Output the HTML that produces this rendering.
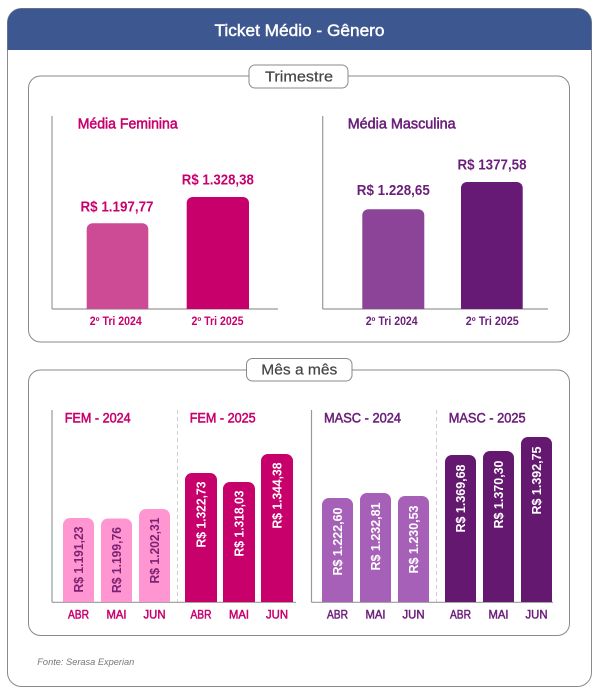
<!DOCTYPE html>
<html><head><meta charset="utf-8"><style>
html,body{margin:0;padding:0;background:#fff;}
svg{display:block;}
text{font-family:"Liberation Sans",Arial,sans-serif;}
</style></head><body>
<svg width="602" height="691" viewBox="0 0 602 691" xmlns="http://www.w3.org/2000/svg">
<!-- outer card -->
<rect x="7.5" y="8.5" width="584" height="678" rx="14" fill="#fff" stroke="#8a8a8a" stroke-width="1"/>
<path d="M7.5 50 V22.5 A14 14 0 0 1 21.5 8.5 H577.5 A14 14 0 0 1 591.5 22.5 V50 Z" fill="#3d5791"/>
<text x="299.5" y="30.5" text-anchor="middle" dominant-baseline="central" font-size="17" fill="#fff" stroke="#fff" stroke-width="0.45" textLength="170" lengthAdjust="spacingAndGlyphs">Ticket Médio - Gênero</text>

<!-- Trimestre box -->
<rect x="28.5" y="76" width="541" height="266" rx="12" fill="none" stroke="#8a8a8a" stroke-width="1"/>
<rect x="249" y="65" width="99" height="23" rx="6" fill="#fff" stroke="#8a8a8a" stroke-width="1"/>
<text x="299" y="77" text-anchor="middle" dominant-baseline="central" font-size="15" fill="#444" stroke="#444" stroke-width="0.2" textLength="68" lengthAdjust="spacingAndGlyphs">Trimestre</text>

<!-- Fem trimestre -->
<line x1="52" y1="116" x2="52" y2="309" stroke="#999" stroke-width="1.2"/>
<line x1="52" y1="309" x2="278" y2="309" stroke="#999" stroke-width="1.2"/>
<text x="77.7" y="124" dominant-baseline="central" font-size="15" fill="#c8006e" stroke="#c8006e" stroke-width="0.55" textLength="100" lengthAdjust="spacingAndGlyphs">Média Feminina</text>
<path d="M86.7 309 V229.3 A6 6 0 0 1 92.7 223.3 H142.3 A6 6 0 0 1 148.3 229.3 V309 Z" fill="#cd4b94"/>
<path d="M186.7 309 V203 A6 6 0 0 1 192.7 197 H243 A6 6 0 0 1 249 203 V309 Z" fill="#c8006c"/>
<text x="117" y="207" text-anchor="middle" dominant-baseline="central" font-size="15" font-weight="bold" fill="#c8006e" textLength="73" lengthAdjust="spacingAndGlyphs">R$ 1.197,77</text>
<text x="217.8" y="180" text-anchor="middle" dominant-baseline="central" font-size="15" font-weight="bold" fill="#c8006e" textLength="72" lengthAdjust="spacingAndGlyphs">R$ 1.328,38</text>
<text x="115.8" y="322" text-anchor="middle" dominant-baseline="central" font-size="11.5" font-weight="bold" fill="#c8006e" textLength="52" lengthAdjust="spacingAndGlyphs">2º Tri 2024</text>
<text x="217.5" y="322" text-anchor="middle" dominant-baseline="central" font-size="11.5" font-weight="bold" fill="#c8006e" textLength="52" lengthAdjust="spacingAndGlyphs">2º Tri 2025</text>

<!-- Masc trimestre -->
<line x1="322.7" y1="116" x2="322.7" y2="309" stroke="#999" stroke-width="1.2"/>
<line x1="322.7" y1="309" x2="548" y2="309" stroke="#999" stroke-width="1.2"/>
<text x="347.7" y="124" dominant-baseline="central" font-size="15" fill="#6b1f7a" stroke="#6b1f7a" stroke-width="0.55" textLength="108" lengthAdjust="spacingAndGlyphs">Média Masculina</text>
<path d="M362.3 309 V215.3 A6 6 0 0 1 368.3 209.3 H418.3 A6 6 0 0 1 424.3 215.3 V309 Z" fill="#8b4498"/>
<path d="M461 309 V188 A6 6 0 0 1 467 182 H516.7 A6 6 0 0 1 522.7 188 V309 Z" fill="#661a75"/>
<text x="393.3" y="190.7" text-anchor="middle" dominant-baseline="central" font-size="15" font-weight="bold" fill="#6b1f7a" textLength="73" lengthAdjust="spacingAndGlyphs">R$ 1.228,65</text>
<text x="492" y="165" text-anchor="middle" dominant-baseline="central" font-size="15" font-weight="bold" fill="#6b1f7a" textLength="69" lengthAdjust="spacingAndGlyphs">R$ 1377,58</text>
<text x="391.7" y="322" text-anchor="middle" dominant-baseline="central" font-size="11.5" font-weight="bold" fill="#6b1f7a" textLength="52" lengthAdjust="spacingAndGlyphs">2º Tri 2024</text>
<text x="492.3" y="322" text-anchor="middle" dominant-baseline="central" font-size="11.5" font-weight="bold" fill="#6b1f7a" textLength="53" lengthAdjust="spacingAndGlyphs">2º Tri 2025</text>

<!-- Mes a mes box -->
<rect x="28.5" y="370" width="541" height="265.5" rx="12" fill="none" stroke="#8a8a8a" stroke-width="1"/>
<rect x="246.5" y="358.5" width="105.5" height="22.5" rx="6" fill="#fff" stroke="#8a8a8a" stroke-width="1"/>
<text x="299.3" y="370" text-anchor="middle" dominant-baseline="central" font-size="15" fill="#444" stroke="#444" stroke-width="0.2" textLength="76" lengthAdjust="spacingAndGlyphs">Mês a mês</text>

<!-- FEM monthly -->
<line x1="52" y1="410" x2="52" y2="602.3" stroke="#999" stroke-width="1.2"/>
<line x1="52" y1="602.3" x2="296" y2="602.3" stroke="#999" stroke-width="1.2"/>
<line x1="177.5" y1="410" x2="177.5" y2="602" stroke="#d0d0d0" stroke-width="1" stroke-dasharray="4 3"/>
<text x="64.7" y="417.7" dominant-baseline="central" font-size="14" fill="#c8006e" stroke="#c8006e" stroke-width="0.55" textLength="66" lengthAdjust="spacingAndGlyphs">FEM - 2024</text>
<text x="189.7" y="417.7" dominant-baseline="central" font-size="14" fill="#c8006e" stroke="#c8006e" stroke-width="0.55" textLength="66" lengthAdjust="spacingAndGlyphs">FEM - 2025</text>

<path d="M63 602 V525 A7 7 0 0 1 70 518 H87 A7 7 0 0 1 94 525 V602 Z" fill="#ff96d2"/>
<path d="M101 602 V525.5 A7 7 0 0 1 108 518.5 H125 A7 7 0 0 1 132 525.5 V602 Z" fill="#ff96d2"/>
<path d="M139 602 V516 A7 7 0 0 1 146 509 H163 A7 7 0 0 1 170 516 V602 Z" fill="#ff96d2"/>
<path d="M185 602 V480 A7 7 0 0 1 192 473 H210 A7 7 0 0 1 217 480 V602 Z" fill="#c8006c"/>
<path d="M223 602 V489 A7 7 0 0 1 230 482 H248 A7 7 0 0 1 255 489 V602 Z" fill="#c8006c"/>
<path d="M261 602 V461 A7 7 0 0 1 268 454 H286 A7 7 0 0 1 293 461 V602 Z" fill="#c8006c"/>

<g font-size="13" font-weight="bold" text-anchor="end" dominant-baseline="central">
<text transform="translate(78.5,526.5) rotate(-90)" fill="#7d2272" textLength="66" lengthAdjust="spacingAndGlyphs">R$ 1.191,23</text>
<text transform="translate(116.5,527) rotate(-90)" fill="#7d2272" textLength="66" lengthAdjust="spacingAndGlyphs">R$ 1.199,76</text>
<text transform="translate(154.5,517.5) rotate(-90)" fill="#7d2272" textLength="66" lengthAdjust="spacingAndGlyphs">R$ 1.202,31</text>
<text transform="translate(201,481.5) rotate(-90)" fill="#fff" textLength="66" lengthAdjust="spacingAndGlyphs">R$ 1.322,73</text>
<text transform="translate(239,490.5) rotate(-90)" fill="#fff" textLength="66" lengthAdjust="spacingAndGlyphs">R$ 1.318,03</text>
<text transform="translate(277,462.5) rotate(-90)" fill="#fff" textLength="66" lengthAdjust="spacingAndGlyphs">R$ 1.344,38</text>
</g>
<g font-size="12" fill="#c8006e" stroke="#c8006e" stroke-width="0.5" text-anchor="middle" dominant-baseline="central">
<text x="78.5" y="614.3" textLength="21" lengthAdjust="spacingAndGlyphs">ABR</text>
<text x="116.5" y="614.3" textLength="20" lengthAdjust="spacingAndGlyphs">MAI</text>
<text x="154.5" y="614.3" textLength="22" lengthAdjust="spacingAndGlyphs">JUN</text>
<text x="201" y="614.3" textLength="21" lengthAdjust="spacingAndGlyphs">ABR</text>
<text x="239" y="614.3" textLength="20" lengthAdjust="spacingAndGlyphs">MAI</text>
<text x="277" y="614.3" textLength="22" lengthAdjust="spacingAndGlyphs">JUN</text>
</g>

<!-- MASC monthly -->
<line x1="311.5" y1="410" x2="311.5" y2="602.3" stroke="#999" stroke-width="1.2"/>
<line x1="311.5" y1="602.3" x2="553" y2="602.3" stroke="#999" stroke-width="1.2"/>
<line x1="436.5" y1="410" x2="436.5" y2="602" stroke="#d0d0d0" stroke-width="1" stroke-dasharray="4 3"/>
<text x="324" y="417.7" dominant-baseline="central" font-size="14" fill="#6b1f7a" stroke="#6b1f7a" stroke-width="0.55" textLength="77" lengthAdjust="spacingAndGlyphs">MASC - 2024</text>
<text x="448.7" y="417.7" dominant-baseline="central" font-size="14" fill="#6b1f7a" stroke="#6b1f7a" stroke-width="0.55" textLength="77" lengthAdjust="spacingAndGlyphs">MASC - 2025</text>

<path d="M322 602 V505 A7 7 0 0 1 329 498 H346 A7 7 0 0 1 353 505 V602 Z" fill="#a660b7"/>
<path d="M360 602 V500 A7 7 0 0 1 367 493 H384 A7 7 0 0 1 391 500 V602 Z" fill="#a660b7"/>
<path d="M398 602 V503 A7 7 0 0 1 405 496 H422 A7 7 0 0 1 429 503 V602 Z" fill="#a660b7"/>
<path d="M445 602 V462 A7 7 0 0 1 452 455 H469 A7 7 0 0 1 476 462 V602 Z" fill="#651870"/>
<path d="M483 602 V458 A7 7 0 0 1 490 451 H507 A7 7 0 0 1 514 458 V602 Z" fill="#651870"/>
<path d="M521 602 V444 A7 7 0 0 1 528 437 H545 A7 7 0 0 1 552 444 V602 Z" fill="#651870"/>

<g font-size="13" font-weight="bold" text-anchor="end" dominant-baseline="central" fill="#fff">
<text transform="translate(337.5,507.5) rotate(-90)" textLength="68" lengthAdjust="spacingAndGlyphs">R$ 1.222,60</text>
<text transform="translate(375.5,502.5) rotate(-90)" textLength="68" lengthAdjust="spacingAndGlyphs">R$ 1.232,81</text>
<text transform="translate(413.5,505.5) rotate(-90)" textLength="68" lengthAdjust="spacingAndGlyphs">R$ 1.230,53</text>
<text transform="translate(460.5,464.5) rotate(-90)" textLength="68" lengthAdjust="spacingAndGlyphs">R$ 1.369,68</text>
<text transform="translate(498.5,460.5) rotate(-90)" textLength="68" lengthAdjust="spacingAndGlyphs">R$ 1.370,30</text>
<text transform="translate(536.5,446.5) rotate(-90)" textLength="68" lengthAdjust="spacingAndGlyphs">R$ 1.392,75</text>
</g>
<g font-size="12" fill="#6b1f7a" stroke="#6b1f7a" stroke-width="0.5" text-anchor="middle" dominant-baseline="central">
<text x="337.5" y="614.3" textLength="21" lengthAdjust="spacingAndGlyphs">ABR</text>
<text x="375.5" y="614.3" textLength="20" lengthAdjust="spacingAndGlyphs">MAI</text>
<text x="413.5" y="614.3" textLength="22" lengthAdjust="spacingAndGlyphs">JUN</text>
<text x="460.5" y="614.3" textLength="21" lengthAdjust="spacingAndGlyphs">ABR</text>
<text x="498.5" y="614.3" textLength="20" lengthAdjust="spacingAndGlyphs">MAI</text>
<text x="536.5" y="614.3" textLength="22" lengthAdjust="spacingAndGlyphs">JUN</text>
</g>

<!-- source -->
<text x="37.3" y="662.7" dominant-baseline="central" font-size="9.5" font-style="italic" fill="#777" textLength="97" lengthAdjust="spacingAndGlyphs">Fonte: Serasa Experian</text>
</svg>
</body></html>
